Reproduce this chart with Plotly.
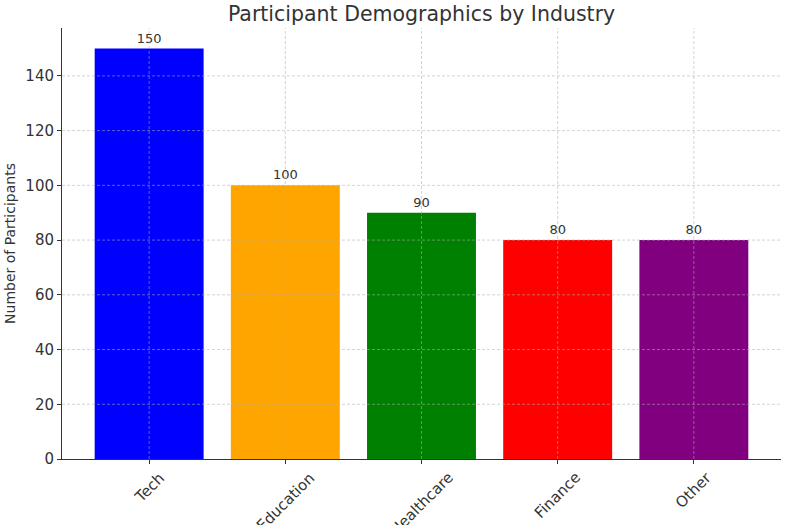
import plotly.graph_objects as go

categories = ["Tech", "Education", "Healthcare", "Finance", "Other"]
participants = [150, 100, 90, 80, 80]
bar_colors = ["blue", "orange", "green", "red", "purple"]
y_ticks = [0, 20, 40, 60, 80, 100, 120, 140]

FONT = "DejaVu Sans"
TXT = "#333333"

x_idx = list(range(len(categories)))

fig = go.Figure()
fig.add_trace(go.Bar(
    x=x_idx, y=participants, width=0.8,
    marker=dict(color=bar_colors, line=dict(width=0)),
    text=[str(v) for v in participants], textposition="outside",
    textfont=dict(family=FONT, size=13, color=TXT),
    cliponaxis=False, showlegend=False,
))

GRID = dict(color="rgba(175,175,175,0.55)", width=1, dash="3px,2px")
shapes = []
for t in y_ticks[1:]:
    shapes.append(dict(type="line", xref="paper", x0=0, x1=1, yref="y", y0=t, y1=t,
                       line=GRID, layer="above"))
for i in x_idx:
    shapes.append(dict(type="line", xref="x", x0=i, x1=i, yref="paper", y0=0, y1=1,
                       line=GRID, layer="above"))

annotations = []
for i, c in zip(x_idx, categories):
    annotations.append(dict(x=i, xref="x", y=0, yref="paper", yshift=-7,
                            text=c, textangle=-45, showarrow=False,
                            xanchor="center", yanchor="top",
                            font=dict(family=FONT, size=15, color=TXT)))

fig.update_layout(
    width=785, height=525,
    margin=dict(l=62, r=4, t=28, b=66),
    paper_bgcolor="white", plot_bgcolor="white",
    title=dict(text="Participant Demographics by Industry", x=0.537, xanchor="center",
               y=0.973, yanchor="middle", font=dict(family=FONT, size=20.5, color=TXT)),
    xaxis=dict(range=[-0.64, 4.64], tickvals=x_idx, showticklabels=False,
               showgrid=False, zeroline=False, showline=True, linecolor="#333333", linewidth=1,
               ticks="outside", ticklen=4, tickcolor="#333333"),
    yaxis=dict(range=[0, 157.5], tickvals=y_ticks, showgrid=False, zeroline=False,
               showline=True, linecolor="#333333", linewidth=1,
               ticks="outside", ticklen=4, tickcolor="#333333",
               tickfont=dict(family=FONT, size=15, color=TXT),
               title=dict(text="Number of Participants", standoff=6,
                          font=dict(family=FONT, size=14, color=TXT))),
    shapes=shapes, annotations=annotations,
)

fig.write_html("out.html")
